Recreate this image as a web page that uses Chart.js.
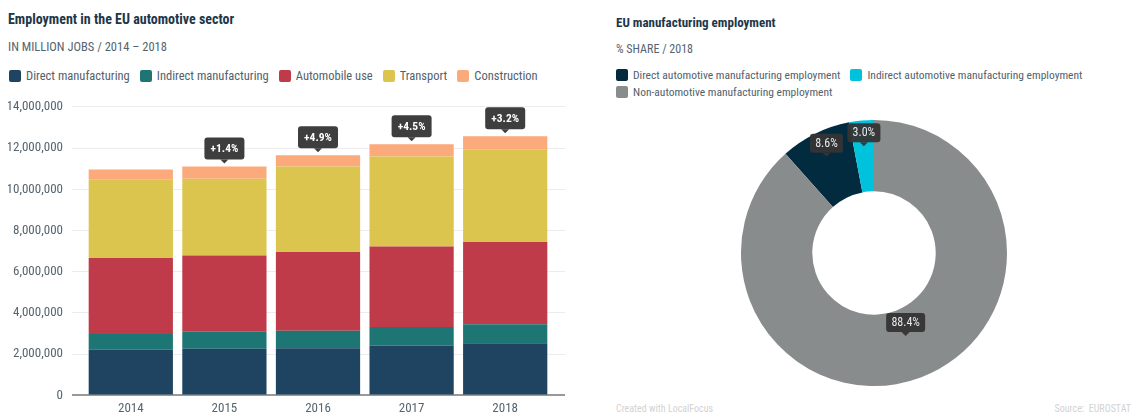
<!DOCTYPE html>
<html>
<head>
<meta charset="utf-8">
<title>EU automotive employment</title>
<script src="https://cdn.jsdelivr.net/npm/chart.js@4.4.0/dist/chart.umd.min.js"></script>
<style>
  html, body {
    margin: 0;
    padding: 0;
    background: #fff;
  }
  body {
    position: relative;
    width: 1133px;
    height: 414px;
    overflow: hidden;
    font-family: "Roboto Condensed", "Liberation Sans Narrow", Roboto, sans-serif;
  }
  .title {
    position: absolute;
    font-size: 14px;
    line-height: 16px;
    font-weight: 700;
    color: #213648;
    white-space: nowrap;
  }
  .subtitle {
    position: absolute;
    font-size: 12.5px;
    line-height: 14px;
    color: #55646f;
    white-space: nowrap;
  }
  .legend {
    position: absolute;
    display: flex;
    flex-wrap: wrap;
    row-gap: 3px;
    column-gap: 10px;
    font-size: 12.5px;
    line-height: 14px;
    color: #53616c;
  }
  .legend-item {
    display: flex;
    align-items: center;
    white-space: nowrap;
  }
  .legend-box {
    width: 12px;
    height: 12px;
    border-radius: 2px;
    margin-right: 5px;
  }
  .footer {
    position: absolute;
    top: 402px;
    font-size: 10px;
    line-height: 13px;
    color: #d2d2d2;
    white-space: nowrap;
  }
  canvas {
    position: absolute;
  }
</style>
</head>
<body>
  <div class="title" style="left:8px; top:11px;">Employment in the EU automotive sector</div>
  <div class="subtitle" style="left:8px; top:40px;">IN MILLION JOBS / 2014 – 2018</div>
  <div class="legend" id="barLegend" style="left:9px; top:69px; width:560px;"></div>
  <canvas id="barChart" width="565" height="333" style="left:0; top:90px;"></canvas>

  <div class="title" style="left:616px; top:15px; font-size:13px;">EU manufacturing employment</div>
  <div class="subtitle" style="left:616px; top:42px; font-size:12px;">% SHARE / 2018</div>
  <div class="legend" id="shareLegend" style="left:616px; top:68px; width:510px; font-size:11.5px;"></div>
  <canvas id="shareChart" width="266" height="266" style="left:741px; top:120px;"></canvas>

  <div class="footer" style="left:616px;">Created with LocalFocus</div>
  <div class="footer" style="right:2px;">Source:&nbsp; EUROSTAT</div>

<script>
// jobs per year, one array per sector
const years = ["2014", "2015", "2016", "2017", "2018"];
const directManufacturing = [2210000, 2260000, 2290000, 2420000, 2530000];
const indirectManufacturing = [770000, 830000, 850000, 900000, 920000];
const automobileUse = [3680000, 3700000, 3820000, 3900000, 3990000];
const transport = [3800000, 3720000, 4140000, 4370000, 4480000];
const construction = [500000, 600000, 550000, 590000, 650000];

const yTicks = [0, 2000000, 4000000, 6000000, 8000000, 10000000, 12000000, 14000000];

// manufacturing employment shares for 2018, in percent
const shareLabels = [
  "Direct automotive manufacturing employment",
  "Indirect automotive manufacturing employment",
  "Non-automotive manufacturing employment",
];
const shareValues = [8.6, 3.0, 88.4];

const FONT = '"Roboto Condensed", "Liberation Sans Narrow", Roboto, sans-serif';
const TICK_COLOR = "#56656f";
const GRID_COLOR = "#ececec";
const LABEL_BG = "rgba(52, 52, 52, 0.95)";

Chart.defaults.font.family = FONT;

const sectors = [
  { label: "Direct manufacturing", data: directManufacturing, color: "#1e4461" },
  { label: "Indirect manufacturing", data: indirectManufacturing, color: "#1d7674" },
  { label: "Automobile use", data: automobileUse, color: "#bf3b4a" },
  { label: "Transport", data: transport, color: "#dcc54f" },
  { label: "Construction", data: construction, color: "#fca97b" },
];
const shareColors = ["#032b40", "#00c2dc", "#898c8c"];

/**
 * Fill a legend container with square swatches.
 * @param {string} id container id
 * @param {Array.<string>} labels
 * @param {Array.<string>} colors
 */
function buildLegend(id, labels, colors) {
  const node = document.getElementById(id);
  labels.forEach((text, i) => {
    const item = document.createElement("div");
    item.className = "legend-item";
    const box = document.createElement("span");
    box.className = "legend-box";
    box.style.background = colors[i];
    item.appendChild(box);
    item.appendChild(document.createTextNode(text));
    node.appendChild(item);
  });
}

/**
 * Dark callout box with a small pointer; tip is where the pointer ends.
 */
function drawCallout(ctx, text, tipX, tipY, opts) {
  ctx.save();
  ctx.font = opts.font;
  const w = Math.round(ctx.measureText(text).width) + opts.padX * 2;
  const h = opts.height;
  const bottom = tipY - opts.pointer;
  const left = tipX - w / 2;
  ctx.fillStyle = LABEL_BG;
  ctx.beginPath();
  ctx.roundRect(left, bottom - h, w, h, 3);
  ctx.fill();
  ctx.beginPath();
  ctx.moveTo(tipX - opts.pointer, bottom);
  ctx.lineTo(tipX + opts.pointer, bottom);
  ctx.lineTo(tipX, tipY);
  ctx.closePath();
  ctx.fill();
  ctx.fillStyle = opts.color;
  ctx.textAlign = "center";
  ctx.textBaseline = "middle";
  ctx.fillText(text, tipX, bottom - h / 2 + 0.5);
  ctx.restore();
}

function totalsByYear() {
  return years.map((_, i) => sectors.reduce((sum, s) => sum + s.data[i], 0));
}

// year-over-year growth above each stacked bar
const growthLabels = {
  id: "growthLabels",
  afterDatasetsDraw(chart) {
    const totals = totalsByYear();
    const top = chart.getDatasetMeta(sectors.length - 1);
    top.data.forEach((bar, i) => {
      if (i === 0) {
        return;
      }
      const growth = (totals[i] / totals[i - 1] - 1) * 100;
      const text = (growth >= 0 ? "+" : "") + growth.toFixed(1) + "%";
      drawCallout(chart.ctx, text, bar.x, bar.y - 3, {
        font: "bold 11.5px " + FONT,
        color: "#ffffff",
        padX: 6,
        height: 22,
        pointer: 4,
      });
    });
  },
};

// percentage callouts sitting on each ring slice
const shareCallouts = {
  id: "shareCallouts",
  afterDatasetsDraw(chart) {
    const meta = chart.getDatasetMeta(0);
    meta.data.forEach((arc, i) => {
      const value = shareValues[i];
      const mid = (arc.startAngle + arc.endAngle) / 2;
      const depth = value > 50 ? 0.38 : 0.64;
      const r = arc.innerRadius + (arc.outerRadius - arc.innerRadius) * depth;
      const x = arc.x + Math.cos(mid) * r;
      const y = arc.y + Math.sin(mid) * r;
      drawCallout(chart.ctx, value.toFixed(1) + "%", x, y, {
        font: "12px " + FONT,
        color: "#e8e8e8",
        padX: 5,
        height: 19,
        pointer: 4,
      });
    });
  },
};

function gridColor(ctx) {
  return ctx.tick && ctx.tick.value === 0 ? "#999999" : GRID_COLOR;
}

function gridWidth(ctx) {
  return ctx.tick && ctx.tick.value === 0 ? 2 : 1;
}

function fixedTicks(scale) {
  scale.ticks = yTicks.map((value) => ({ value }));
}

function renderBars() {
  const ctx = document.getElementById("barChart").getContext("2d");
  return new Chart(ctx, {
    type: "bar",
    data: {
      labels: years,
      datasets: sectors.map((s) => ({
        label: s.label,
        data: s.data,
        backgroundColor: s.color,
        borderWidth: 0,
        categoryPercentage: 1,
        barPercentage: 0.9,
      })),
    },
    options: {
      responsive: false,
      animation: false,
      layout: { padding: { left: 8, top: 16, right: 0, bottom: 0 } },
      plugins: {
        legend: { display: false },
        tooltip: { enabled: false },
      },
      scales: {
        x: {
          stacked: true,
          grid: { display: false, drawTicks: false },
          border: { display: false },
          ticks: {
            color: TICK_COLOR,
            padding: 6,
            font: { size: 13 },
          },
        },
        y: {
          stacked: true,
          min: 0,
          max: 14000000,
          afterBuildTicks: fixedTicks,
          // keep the plot edge put whatever the label widths come out as
          afterFit: (scale) => {
            scale.width = 76;
          },
          ticks: {
            color: TICK_COLOR,
            padding: 9,
            font: { size: 13 },
            callback: (v) => Number(v).toLocaleString("en-US"),
          },
          grid: { color: gridColor, lineWidth: gridWidth, tickLength: 12 },
          border: { display: false },
        },
        // right-hand axis only extends the grid lines past the last bar
        yEdge: {
          position: "right",
          min: 0,
          max: 14000000,
          afterBuildTicks: fixedTicks,
          ticks: { display: false },
          grid: {
            color: gridColor,
            lineWidth: gridWidth,
            tickLength: 13,
            drawOnChartArea: false,
          },
          border: { display: false },
        },
      },
    },
    plugins: [growthLabels],
  });
}

function renderShares() {
  const ctx = document.getElementById("shareChart").getContext("2d");
  const before = shareValues[0] + shareValues[1];
  return new Chart(ctx, {
    type: "doughnut",
    data: {
      labels: shareLabels,
      datasets: [
        {
          data: shareValues,
          backgroundColor: shareColors,
          borderWidth: 0,
        },
      ],
    },
    options: {
      responsive: false,
      animation: false,
      cutout: "46.4%",
      // slices run clockwise so the two automotive shares end at 12 o'clock
      rotation: (-before / 100) * 360,
      layout: { padding: 0 },
      plugins: {
        legend: { display: false },
        tooltip: { enabled: false },
      },
    },
    plugins: [shareCallouts],
  });
}

buildLegend("barLegend", sectors.map((s) => s.label), sectors.map((s) => s.color));
buildLegend("shareLegend", shareLabels, shareColors);
renderBars();
renderShares();
</script>
</body>
</html>
